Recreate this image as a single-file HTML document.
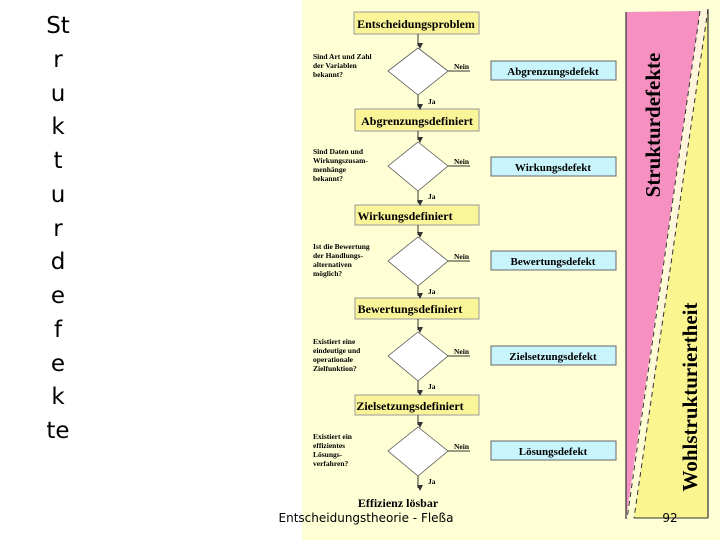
<!DOCTYPE html>
<html><head><meta charset="utf-8"><style>
html,body{margin:0;padding:0;background:#fff;width:720px;height:540px;overflow:hidden}
svg{display:block}
.b{font-family:"Liberation Serif",serif;font-weight:bold}
</style></head><body>
<svg width="720" height="540" xmlns="http://www.w3.org/2000/svg">
<defs><marker id="a" markerWidth="6" markerHeight="6" refX="3" refY="5" orient="auto-start-reverse" markerUnits="userSpaceOnUse"><path d="M0,0 L6,0 L3,6 z" fill="#333" transform="rotate(-90 3 3)"/></marker></defs>
<g font-family="DejaVu Sans, sans-serif" font-size="23" text-anchor="middle" fill="#000">
<text x="58" y="33">St</text><text x="58" y="67">r</text><text x="58" y="101">u</text>
<text x="58" y="134">k</text><text x="58" y="168">t</text><text x="58" y="202">u</text>
<text x="58" y="236">r</text><text x="58" y="269">d</text><text x="58" y="303">e</text>
<text x="58" y="337">f</text><text x="58" y="371">e</text><text x="58" y="404">k</text>
<text x="58" y="438">te</text>
</g>
<rect x="302" y="0" width="418" height="540" fill="#ffffd6"/>
<polygon points="626,12 700,11 627,519" fill="#fff4dc"/>
<polygon points="700,11 708,9 708,518 634,518" fill="#fff4dc"/>
<polygon points="626,12 700,11 626,519" fill="#f590c0"/>
<polygon points="708,9 708,518 634,518" fill="#fbf590"/>
<line x1="626" y1="12" x2="626" y2="519" stroke="#333" stroke-width="1.2"/>
<line x1="708" y1="9" x2="708" y2="518" stroke="#333" stroke-width="1.2"/>
<line x1="634" y1="518" x2="708" y2="518" stroke="#333" stroke-width="1"/>
<line x1="700" y1="11" x2="627" y2="519" stroke="#333" stroke-width="1" stroke-dasharray="5,4"/>
<line x1="708" y1="9" x2="634" y2="518" stroke="#333" stroke-width="1" stroke-dasharray="5,4"/>
<text class="b" font-size="21" transform="translate(660,125) rotate(-90)" text-anchor="middle">Strukturdefekte</text>
<text class="b" font-size="21" transform="translate(697,397) rotate(-90)" text-anchor="middle">Wohlstrukturiertheit</text>
<g class="b" font-size="12" text-anchor="middle">
<rect x="354" y="12" width="125" height="22" fill="#fbf59a" stroke="#999"/>
<text x="416" y="28">Entscheidungsproblem</text>
<rect x="355" y="109" width="124" height="22" fill="#fbf59a" stroke="#999"/>
<text x="417" y="125">Abgrenzungsdefiniert</text>
<rect x="355" y="205" width="124" height="20" fill="#fbf59a" stroke="#999"/>
<text x="405" y="220">Wirkungsdefiniert</text>
<rect x="355" y="298" width="124" height="21" fill="#fbf59a" stroke="#999"/>
<text x="410" y="313">Bewertungsdefiniert</text>
<rect x="355" y="395" width="124" height="20" fill="#fbf59a" stroke="#999"/>
<text x="410" y="410">Zielsetzungsdefiniert</text>
<text x="398" y="507">Effizienz lösbar</text>
</g>
<g class="b" font-size="11" text-anchor="middle">
<rect x="491" y="61" width="125" height="19" fill="#c8f4fc" stroke="#666"/><text x="553" y="75">Abgrenzungsdefekt</text>
<rect x="491" y="157" width="125" height="19" fill="#c8f4fc" stroke="#666"/><text x="553" y="171">Wirkungsdefekt</text>
<rect x="491" y="251" width="125" height="19" fill="#c8f4fc" stroke="#666"/><text x="553" y="265">Bewertungsdefekt</text>
<rect x="491" y="346" width="125" height="19" fill="#c8f4fc" stroke="#666"/><text x="553" y="360">Zielsetzungsdefekt</text>
<rect x="491" y="441" width="125" height="19" fill="#c8f4fc" stroke="#666"/><text x="553" y="455">Lösungsdefekt</text>
</g>
<g stroke="#555" fill="#fff" stroke-width="0.8">
<polygon points="418,48 448,71 418,95 388,71"/>
<polygon points="418,142 448,166 418,191 388,166"/>
<polygon points="418,237 448,261 418,286 388,261"/>
<polygon points="418,332 448,356 418,381 388,356"/>
<polygon points="418,427 448,451 418,476 388,451"/>
</g>
<g stroke="#333" stroke-width="1" marker-end="url(#a)">
<line x1="418" y1="34" x2="418" y2="46"/><line x1="418" y1="95" x2="418" y2="107"/>
<line x1="418" y1="131" x2="418" y2="140"/><line x1="418" y1="191" x2="418" y2="203"/>
<line x1="418" y1="225" x2="418" y2="235"/><line x1="418" y1="286" x2="418" y2="296"/>
<line x1="418" y1="319" x2="418" y2="330"/><line x1="418" y1="381" x2="418" y2="393"/>
<line x1="418" y1="415" x2="418" y2="425"/><line x1="418" y1="476" x2="418" y2="488"/>
</g>
<g stroke="#333" stroke-width="1">
<line x1="448" y1="71" x2="470" y2="71"/><line x1="448" y1="166" x2="470" y2="166"/>
<line x1="448" y1="261" x2="470" y2="261"/><line x1="448" y1="356" x2="470" y2="356"/>
<line x1="448" y1="451" x2="470" y2="451"/>
</g>
<g class="b" font-size="7.5" fill="#000">
<text x="454" y="69">Nein</text><text x="454" y="164">Nein</text><text x="454" y="259">Nein</text><text x="454" y="354">Nein</text><text x="454" y="449">Nein</text>
<text x="428" y="104">Ja</text><text x="428" y="199">Ja</text><text x="428" y="294">Ja</text><text x="428" y="389">Ja</text><text x="428" y="484">Ja</text>
<text x="313" y="59">Sind Art und Zahl</text><text x="313" y="68">der Variablen</text><text x="313" y="77">bekannt?</text>
<text x="313" y="154">Sind Daten und</text><text x="313" y="163">Wirkungszusam-</text><text x="313" y="172">menhänge</text><text x="313" y="181">bekannt?</text>
<text x="313" y="249">Ist die Bewertung</text><text x="313" y="258">der Handlungs-</text><text x="313" y="267">alternativen</text><text x="313" y="276">möglich?</text>
<text x="313" y="344">Existiert eine</text><text x="313" y="353">eindeutige und</text><text x="313" y="362">operationale</text><text x="313" y="371">Zielfunktion?</text>
<text x="313" y="439">Existiert ein</text><text x="313" y="448">effizientes</text><text x="313" y="457">Lösungs-</text><text x="313" y="466">verfahren?</text>
</g>
<text x="366" y="522" font-family="DejaVu Sans, sans-serif" font-size="12" text-anchor="middle">Entscheidungstheorie - Fleßa</text>
<text x="670" y="522" font-family="DejaVu Sans, sans-serif" font-size="12" text-anchor="middle">92</text>
</svg>
</body></html>
